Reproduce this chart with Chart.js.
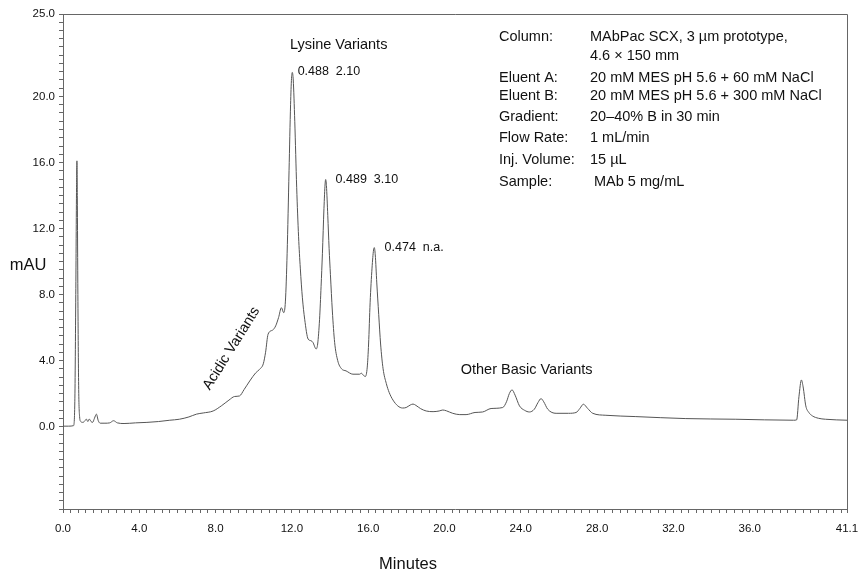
<!DOCTYPE html>
<html>
<head>
<meta charset="utf-8">
<script src="https://cdn.jsdelivr.net/npm/chart.js@4"></script>
<style>
  html, body { margin: 0; padding: 0; background: #fff; }
  #wrap { width: 859px; height: 573px; }
</style>
</head>
<body>
<div id="wrap"><canvas id="chromChart" width="859" height="573"></canvas></div>
<script>
// retention time (min) and absorbance (mAU)
const minutes = [
  0.00, 0.30, 0.55, 0.62, 0.67, 0.71, 0.73, 0.75, 0.78, 0.82, 0.87, 0.93,
  1.05, 1.15, 1.22, 1.30, 1.38, 1.47, 1.55, 1.65, 1.75, 1.85, 1.95, 2.20,
  2.45, 2.65, 2.85, 3.20, 3.80, 4.40, 5.00, 5.60, 6.10, 6.60, 7.00, 7.35,
  7.87, 8.30, 8.70, 9.00, 9.25, 9.50, 9.79, 10.10, 10.31, 10.50, 10.62, 10.75,
  11.00, 11.15, 11.30, 11.45, 11.57, 11.66, 11.75, 11.85, 11.93, 11.98, 12.02, 12.07,
  12.15, 12.25, 12.35, 12.44, 12.55, 12.67, 12.85, 13.00, 13.10, 13.27, 13.35, 13.45,
  13.53, 13.60, 13.68, 13.74, 13.77, 13.81, 13.88, 13.95, 14.02, 14.12, 14.24, 14.40,
  14.60, 14.84, 15.20, 15.55, 15.64, 15.75, 15.85, 15.95, 16.02, 16.10, 16.20, 16.28,
  16.32, 16.37, 16.45, 16.55, 16.65, 16.78, 16.95, 17.10, 17.30, 17.55, 17.80, 17.99,
  18.20, 18.35, 18.50, 18.75, 19.04, 19.40, 19.72, 19.91, 20.10, 20.43, 20.80, 21.13,
  21.60, 22.00, 22.44, 23.05, 23.25, 23.40, 23.54, 23.70, 23.93, 24.20, 24.45, 24.71,
  24.90, 25.06, 25.20, 25.41, 25.85, 26.50, 26.90, 27.10, 27.28, 27.50, 27.77, 28.46,
  30.03, 32.65, 35.27, 38.30, 38.46, 38.58, 38.71, 38.80, 38.94, 39.10, 39.29, 39.60,
  39.97, 41.10
];
const mAU = [
  0.02, 0.02, 0.05, 1.5, 8.0, 14.5, 16.1, 14.0, 8.0, 2.5, 0.6, 0.3,
  0.25, 0.35, 0.45, 0.3, 0.45, 0.3, 0.25, 0.5, 0.75, 0.35, 0.2, 0.2,
  0.22, 0.35, 0.22, 0.18, 0.22, 0.25, 0.3, 0.38, 0.44, 0.58, 0.75, 0.82,
  0.94, 1.25, 1.6, 1.82, 1.85, 2.25, 2.76, 3.25, 3.47, 3.8, 4.5, 5.59,
  5.85, 6.1, 6.6, 7.2, 6.9, 7.6, 10.5, 15.5, 19.5, 21.1, 21.46, 21.0,
  18.5, 14.5, 11.5, 9.6, 7.8, 6.5, 5.3, 5.2, 5.1, 4.7, 5.0, 6.5,
  8.5, 10.5, 13.2, 14.7, 14.97, 14.6, 12.8, 10.8, 9.2, 7.0, 5.1, 4.0,
  3.5, 3.37, 3.17, 3.17, 3.23, 3.1, 3.03, 3.6, 5.0, 7.5, 9.6, 10.7,
  10.84, 10.4, 8.7, 6.8, 5.0, 3.5, 2.6, 2.06, 1.6, 1.25, 1.12, 1.15,
  1.3, 1.36, 1.28, 1.08, 0.94, 0.9, 0.94, 1.0, 0.95, 0.8, 0.72, 0.72,
  0.85, 0.88, 1.09, 1.15, 1.5, 2.0, 2.22, 1.9, 1.25, 0.98, 0.88, 1.05,
  1.45, 1.69, 1.5, 1.05, 0.8, 0.8, 0.85, 1.1, 1.35, 1.1, 0.8, 0.68,
  0.6, 0.48, 0.44, 0.38, 0.4, 1.8, 2.82, 2.4, 1.25, 0.85, 0.64, 0.5,
  0.44, 0.38
];

// labelled tick values
const yTickLabels = [0, 4, 8, 12, 16, 20, 25];
const xTickLabels = [0, 4, 8, 12, 16, 20, 24, 28, 32, 36, 41.1];

// method details shown top right
const infoNames = ['Column:', '', 'Eluent A:', 'Eluent B:', 'Gradient:', 'Flow Rate:', 'Inj. Volume:', 'Sample:'];
const infoValues = ['MAbPac SCX, 3 \u00b5m prototype,', '4.6 \u00d7 150 mm', '20 mM MES pH 5.6 + 60 mM NaCl',
  '20 mM MES pH 5.6 + 300 mM NaCl', '20\u201340% B in 30 min', '1 mL/min', '15 \u00b5L', ' MAb 5 mg/mL'];

const points = minutes.map((t, i) => ({ x: t, y: mAU[i] }));
const FONT = 'Arial, "Liberation Sans", sans-serif';

const hasLabel = (list, v) => list.some(l => Math.abs(l - v) < 1e-6);

// extra text: frame, axis titles, peak notes, method table
const textPlugin = {
  id: 'chromText',
  afterDraw(chart) {
    const ctx = chart.ctx;
    const a = chart.chartArea;
    const xs = chart.scales.x, ys = chart.scales.y;
    ctx.save();
    // top + right frame
    ctx.strokeStyle = '#666';
    ctx.lineWidth = 1;
    ctx.beginPath();
    ctx.moveTo(a.left, a.top + 0.5);
    ctx.lineTo(a.right + 0.5, a.top + 0.5);
    ctx.lineTo(a.right + 0.5, a.bottom);
    ctx.stroke();

    ctx.fillStyle = '#111';
    ctx.textBaseline = 'middle';

    // axis titles
    ctx.font = '16.5px ' + FONT;
    ctx.textAlign = 'center';
    ctx.fillText('mAU', 28, 265);
    ctx.fillText('Minutes', 408, 564);

    // peak notes (data coords)
    ctx.font = '14.5px ' + FONT;
    ctx.fillText('Lysine Variants', xs.getPixelForValue(14.45), ys.getPixelForValue(23.1));
    ctx.textAlign = 'left';
    ctx.fillText('Other Basic Variants', xs.getPixelForValue(20.85), ys.getPixelForValue(3.4));
    ctx.save();
    ctx.translate(xs.getPixelForValue(8.83), ys.getPixelForValue(4.73));
    ctx.rotate(-58 * Math.PI / 180);
    ctx.textAlign = 'center';
    ctx.fillText('Acidic Variants', 0, 0);
    ctx.restore();

    ctx.font = '12.5px ' + FONT;
    ctx.textAlign = 'left';
    ctx.fillText('0.488  2.10', xs.getPixelForValue(12.3), ys.getPixelForValue(21.5));
    ctx.fillText('0.489  3.10', xs.getPixelForValue(14.29), ys.getPixelForValue(14.95));
    ctx.fillText('0.474  n.a.', xs.getPixelForValue(16.86), ys.getPixelForValue(10.85));

    // method table
    const rowY = [37, 56, 78, 96, 117, 138, 160, 182];
    ctx.font = '14.5px ' + FONT;
    infoNames.forEach((n, i) => {
      ctx.fillText(n, 499, rowY[i]);
      ctx.fillText(infoValues[i], 590, rowY[i]);
    });
    ctx.restore();
  }
};

const ctxChrom = document.getElementById('chromChart').getContext('2d');
const chromChart = new Chart(ctxChrom, {
  type: 'line',
  data: {
    datasets: [{
      data: points,
      borderColor: '#555',
      borderWidth: 1,
      pointRadius: 0,
      fill: false,
      cubicInterpolationMode: 'monotone'
    }]
  },
  options: {
    responsive: false,
    animation: false,
    layout: { padding: { top: 14, right: 12, left: 0, bottom: 0 } },
    plugins: { legend: { display: false }, tooltip: { enabled: false } },
    scales: {
      x: {
        type: 'linear',
        min: 0,
        max: 41.1,
        afterBuildTicks(scale) {
          const t = [];
          for (let i = 0; i <= 102; i++) t.push({ value: +(i * 0.4).toFixed(2) });
          t.push({ value: 41.1 });
          scale.ticks = t;
        },
        afterFit(scale) {
          scale.height = 64;
          scale.paddingLeft = 0;
          scale.paddingRight = 0;
        },
        ticks: {
          autoSkip: false,
          maxRotation: 0,
          padding: 9,
          color: '#111',
          font: { family: FONT, size: 11.5 },
          callback: v => hasLabel(xTickLabels, v) ? v.toFixed(1) : ''
        },
        grid: { drawOnChartArea: false, drawTicks: true, tickLength: 4, color: '#666' },
        border: { display: true, color: '#666' }
      },
      y: {
        min: -5,
        max: 25,
        afterBuildTicks(scale) {
          const t = [];
          for (let i = 0; i <= 60; i++) t.push({ value: -5 + i * 0.5 });
          scale.ticks = t;
        },
        afterFit(scale) {
          scale.width = 63;
          scale.paddingTop = 0;
          scale.paddingBottom = 0;
        },
        ticks: {
          autoSkip: false,
          padding: 4,
          color: '#111',
          font: { family: FONT, size: 11.5 },
          callback: v => hasLabel(yTickLabels, v) ? v.toFixed(1) : ''
        },
        grid: { drawOnChartArea: false, drawTicks: true, tickLength: 4, color: '#666' },
        border: { display: true, color: '#666' }
      }
    }
  },
  plugins: [textPlugin]
});
</script>
</body>
</html>
